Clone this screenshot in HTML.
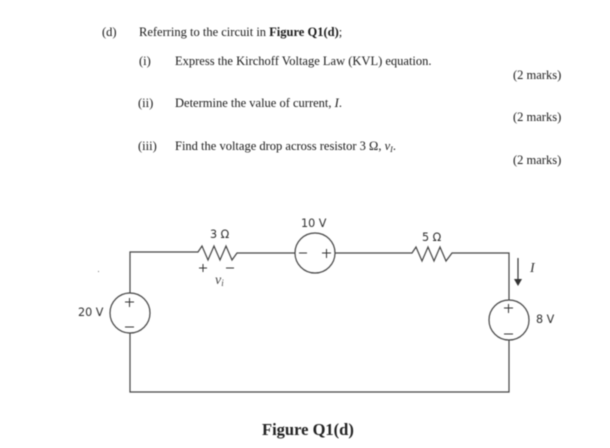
<!DOCTYPE html>
<html>
<head>
<meta charset="utf-8">
<style>
html,body{margin:0;padding:0;background:#fff;}
svg{display:block;filter:blur(0.4px);}
.t{font-family:"Liberation Serif",serif;font-size:12.5px;fill:#1a1a1a;}
.s{font-family:"DejaVu Sans","Liberation Sans",sans-serif;font-size:11.2px;fill:#2e2e2e;}
.w{fill:none;stroke:#444;stroke-width:1.2;}
.c{fill:#fff;stroke:#444;stroke-width:1.2;}
.p{stroke:#333;stroke-width:1;fill:none;}
</style>
</head>
<body>
<svg width="610" height="448" viewBox="0 0 610 448" xmlns="http://www.w3.org/2000/svg">
<rect width="610" height="448" fill="#fff"/>
<text class="t" x="102" y="36">(d)</text>
<text class="t" x="139" y="36">Referring to the circuit in <tspan font-weight="bold">Figure Q1(d)</tspan>;</text>
<text class="t" x="139" y="65">(i)</text>
<text class="t" x="175" y="65">Express the Kirchoff Voltage Law (KVL) equation.</text>
<text class="t" x="513" y="79">(2 marks)</text>
<text class="t" x="138" y="107">(ii)</text>
<text class="t" x="175" y="107">Determine the value of current, <tspan font-style="italic">I</tspan>.</text>
<text class="t" x="513" y="121">(2 marks)</text>
<text class="t" x="138" y="150">(iii)</text>
<text class="t" x="175" y="150">Find the voltage drop across resistor 3 Ω, <tspan font-style="italic">v<tspan font-size="8" dy="2">I</tspan></tspan><tspan dy="-2">.</tspan></text>
<text class="t" x="513" y="164">(2 marks)</text>

<path class="w" d="M130 293V252H198L202 246L208 260L214 246L220 260L226 246L232 260L237 253H295M335 253H412L416 247L422 261L428 247L434 261L440 247L446 261L452 253H509V300M509 340V392H130V333"/>
<circle class="c" cx="130" cy="313" r="20"/>
<circle class="c" cx="315" cy="253" r="20"/>
<circle class="c" cx="509" cy="320" r="20"/>

<path class="p" d="M125 302H134M129.500 298V307M125 327H134"/>
<path class="p" d="M299 253H307M322 253H331M326.500 249V258"/>
<path class="p" d="M504 308H513M508.500 304V313M504 334H513"/>
<path class="p" d="M199 268H207M203 264V272M226 268H234"/>
<path d="M518 258V279" stroke="#333" stroke-width="1.2" fill="none"/>
<path d="M514 279H522L518 286Z" fill="#333"/>

<text class="s" x="78" y="316">20 V</text>
<text class="s" x="210" y="238">3 Ω</text>
<text class="s" x="301" y="227">10 V</text>
<text class="s" x="422" y="241">5 Ω</text>
<text class="s" x="536" y="323">8 V</text>
<text x="530" y="272" font-family="Liberation Serif,serif" font-style="italic" font-size="14" fill="#333">I</text>
<text x="215" y="284" font-family="Liberation Serif,serif" font-style="italic" font-size="14" fill="#444">v<tspan font-size="9" dy="2">i</tspan></text>

<text x="262" y="435" font-family="Liberation Serif,serif" font-weight="bold" font-size="16.5" fill="#222">Figure Q1(d)</text>
<rect x="98" y="271" width="1" height="1" fill="#777"/>
</svg>
</body>
</html>
